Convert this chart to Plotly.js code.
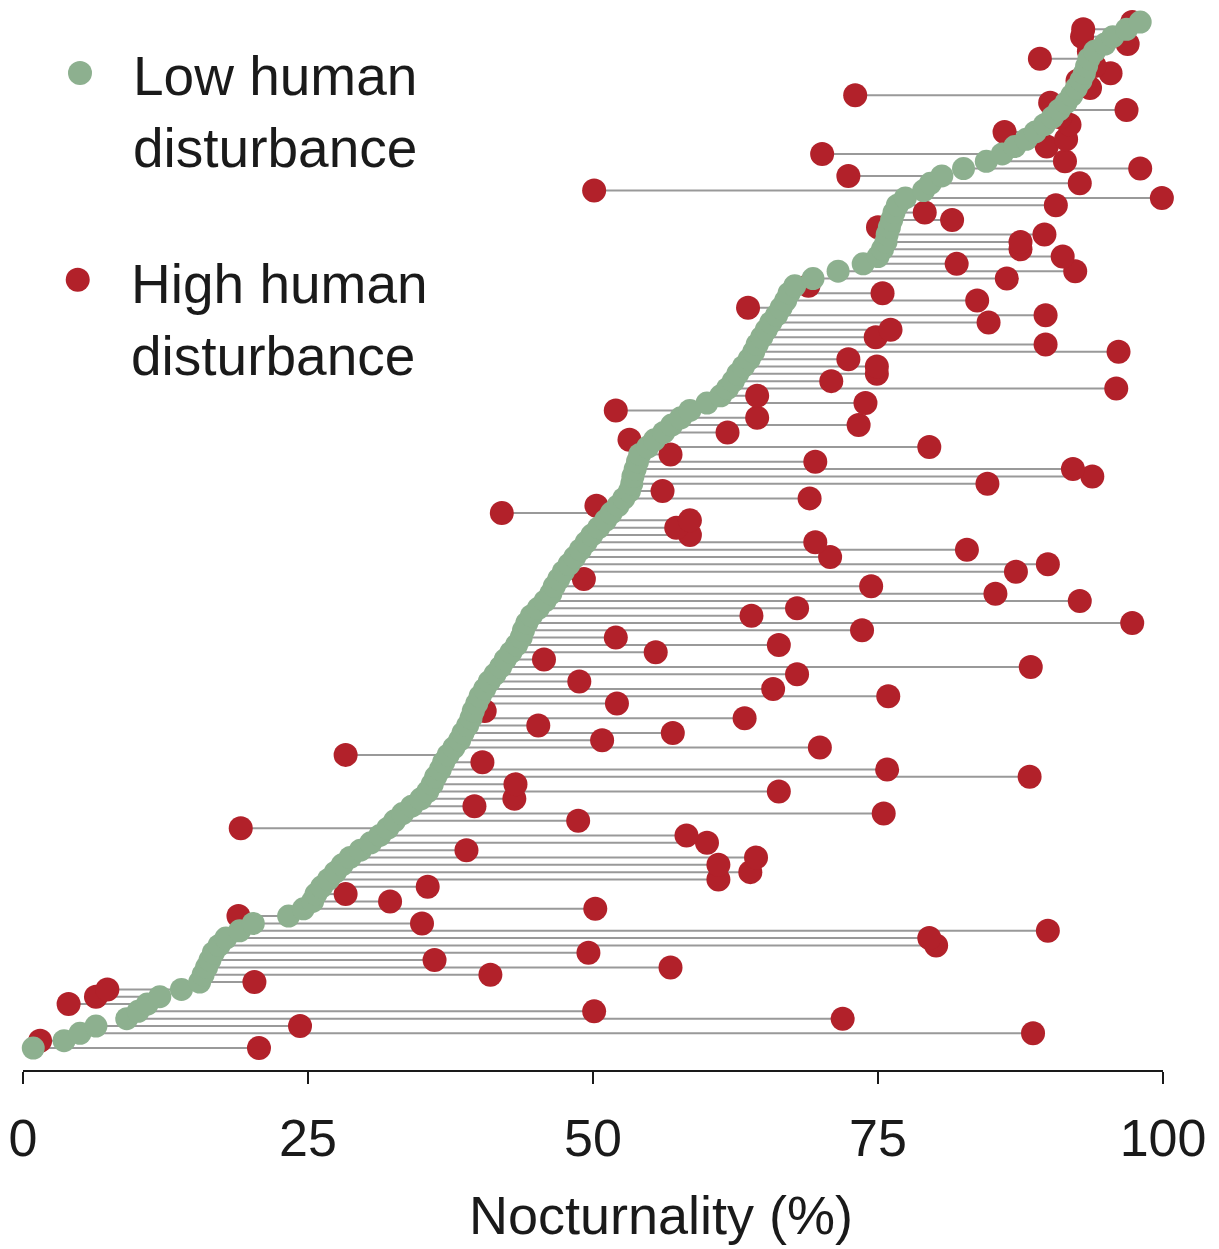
<!DOCTYPE html>
<html>
<head>
<meta charset="utf-8">
<script src="https://cdn.plot.ly/plotly-3.0.1.min.js"></script>
<style>html,body{margin:0;padding:0;background:#fff;}#chart{width:1219px;height:1249px;}</style>
</head>
<body>
<div id="chart"></div>
<script>
// Nocturnality (%) per species, sorted by low-disturbance value (bottom to top)
const lowDisturbance = [
  0.9, 3.6, 5.0, 6.4, 9.1, 10.1, 10.9, 12.0, 13.9, 15.5,
  15.8, 16.1, 16.4, 16.7, 17.2, 17.8, 19.0, 20.2, 23.3, 24.6,
  25.4, 25.7, 26.2, 26.8, 27.4, 28.0, 28.7, 29.6, 30.5, 31.3,
  32.0, 32.6, 33.3, 34.1, 34.9, 35.5, 35.9, 36.2, 36.6, 36.9,
  37.3, 37.8, 38.3, 38.6, 39.0, 39.3, 39.5, 39.8, 40.1, 40.5,
  40.9, 41.4, 41.9, 42.3, 42.8, 43.3, 43.7, 43.9, 44.2, 44.6,
  45.2, 45.8, 46.3, 46.6, 47.0, 47.4, 47.9, 48.4, 48.9, 49.4,
  49.9, 50.5, 51.1, 51.6, 52.2, 52.7, 53.2, 53.4, 53.5, 53.7,
  53.9, 54.1, 54.8, 55.4, 56.2, 56.9, 57.7, 58.5, 60.0, 61.2,
  61.8, 62.3, 62.7, 63.2, 63.7, 64.1, 64.4, 64.8, 65.2, 65.6,
  66.1, 66.5, 66.9, 67.2, 67.7, 69.3, 71.5, 73.7, 75.0, 75.4,
  75.7, 75.8, 76.0, 76.2, 76.4, 76.7, 77.4, 79.0, 79.6, 80.6,
  82.5, 84.5, 85.9, 87.0, 88.0, 88.8, 89.6, 90.3, 90.9, 91.5,
  92.0, 92.4, 92.8, 93.1, 93.3, 93.5, 94.0, 94.9, 95.6, 96.8,
  98.0
];
const highDisturbance = [
  20.7, 1.5, 88.6, 24.3, 71.9, 50.1, 4.0, 6.4, 7.4, 20.3,
  41.0, 56.8, 36.1, 49.6, 80.1, 79.5, 89.9, 35.0, 18.9, 50.2,
  32.2, 28.3, 35.5, 61.0, 63.8, 61.0, 64.3, 38.9, 60.0, 58.2,
  19.1, 48.7, 75.5, 39.6, 43.1, 66.3, 43.2, 88.3, 75.8, 40.3,
  28.3, 69.9, 50.8, 57.0, 45.2, 63.3, 40.5, 52.1, 75.9, 65.8,
  48.8, 67.9, 88.4, 45.7, 55.5, 66.3, 52.0, 73.6, 97.3, 63.9,
  67.9, 92.7, 85.3, 74.4, 49.2, 87.1, 89.9, 70.8, 82.8, 69.5,
  58.5, 57.3, 58.5, 42.0, 50.3, 69.0, 56.1, 84.6, 93.8, 92.1,
  69.5, 56.8, 79.5, 53.2, 61.8, 73.3, 64.4, 52.0, 73.9, 64.4,
  95.9, 70.9, 74.9, 74.9, 72.4, 96.1, 89.7, 74.8, 76.1, 84.7,
  89.7, 63.6, 83.7, 75.4, 68.9, 86.3, 92.3, 81.9, 91.2, 87.5,
  87.5, 89.6, 75.0, 81.5, 79.1, 90.6, 99.9, 50.1, 92.7, 72.4,
  98.0, 91.4, 70.1, 89.8, 91.5, 86.1, 91.8, 91.0, 96.8, 90.1,
  73.0, 93.6, 92.5, 95.4, 94.0, 89.2, 93.5, 96.9, 92.9, 93.0,
  97.3
];
const tickValues = [0, 25, 50, 75, 100];
const tickLabels = ['0', '25', '50', '75', '100'];
const seriesNames = ['Low human<br>disturbance', 'High human<br>disturbance'];
const axisTitle = 'Nocturnality (%)';

const rows = lowDisturbance.map((_, i) => i);
const segX = [], segY = [];
rows.forEach(i => {
  segX.push(lowDisturbance[i], highDisturbance[i], null);
  segY.push(i, i, null);
});

const GREEN = '#8DB08F';
const RED = '#B2212A';
const FONT = '"Liberation Sans", Arial, Helvetica, sans-serif';

const traces = [
  {x: segX, y: segY, mode: 'lines', type: 'scatter',
   line: {color: '#999999', width: 2}, hoverinfo: 'skip', showlegend: false, cliponaxis: false},
  {x: highDisturbance, y: rows, mode: 'markers', type: 'scatter', name: 'High human disturbance',
   marker: {color: RED, size: 24, line: {width: 0}}, showlegend: false, cliponaxis: false},
  {x: lowDisturbance, y: rows, mode: 'markers', type: 'scatter', name: 'Low human disturbance',
   marker: {color: GREEN, size: 23, line: {width: 0}}, showlegend: false, cliponaxis: false}
];

const layout = {
  width: 1219, height: 1249,
  margin: {l: 23, r: 56, t: 15, b: 179},
  paper_bgcolor: '#fff', plot_bgcolor: '#fff',
  font: {family: FONT, color: '#1a1a1a'},
  showlegend: false,
  xaxis: {
    range: [0, 100], tickvals: tickValues, ticktext: tickLabels,
    showgrid: false, zeroline: false, showline: true, linecolor: '#1a1a1a', linewidth: 2,
    ticks: 'outside', ticklen: 12, tickwidth: 2, tickcolor: '#1a1a1a',
    tickfont: {size: 52, family: FONT, color: '#1a1a1a'}, ticklabelstandoff: 10
  },
  yaxis: {
    range: [-3.0, 140.96], showgrid: false, zeroline: false, showline: false,
    showticklabels: false, ticks: ''
  },
  shapes: [
    {type: 'circle', xref: 'paper', yref: 'paper', xsizemode: 'pixel', ysizemode: 'pixel',
     xanchor: 0.05, yanchor: 0.945, x0: -12, x1: 12, y0: -12, y1: 12,
     fillcolor: GREEN, line: {width: 0}},
    {type: 'circle', xref: 'paper', yref: 'paper', xsizemode: 'pixel', ysizemode: 'pixel',
     xanchor: 0.048, yanchor: 0.749, x0: -12, x1: 12, y0: -12, y1: 12,
     fillcolor: RED, line: {width: 0}}
  ],
  annotations: [
    {text: seriesNames[0], xref: 'paper', yref: 'paper', x: 0.0947, y: 0.908,
     xanchor: 'left', yanchor: 'middle', align: 'left', showarrow: false,
     font: {size: 55, family: FONT, color: '#1a1a1a'}},
    {text: seriesNames[1], xref: 'paper', yref: 'paper', x: 0.093, y: 0.711,
     xanchor: 'left', yanchor: 'middle', align: 'left', showarrow: false,
     font: {size: 55, family: FONT, color: '#1a1a1a'}},
    {text: axisTitle, xref: 'paper', yref: 'paper', x: 0.5596, y: -0.1374,
     xanchor: 'center', yanchor: 'middle', showarrow: false,
     font: {size: 54, family: FONT, color: '#1a1a1a'}}
  ]
};

Plotly.newPlot('chart', traces, layout, {displayModeBar: false, staticPlot: true});
</script>
</body>
</html>
